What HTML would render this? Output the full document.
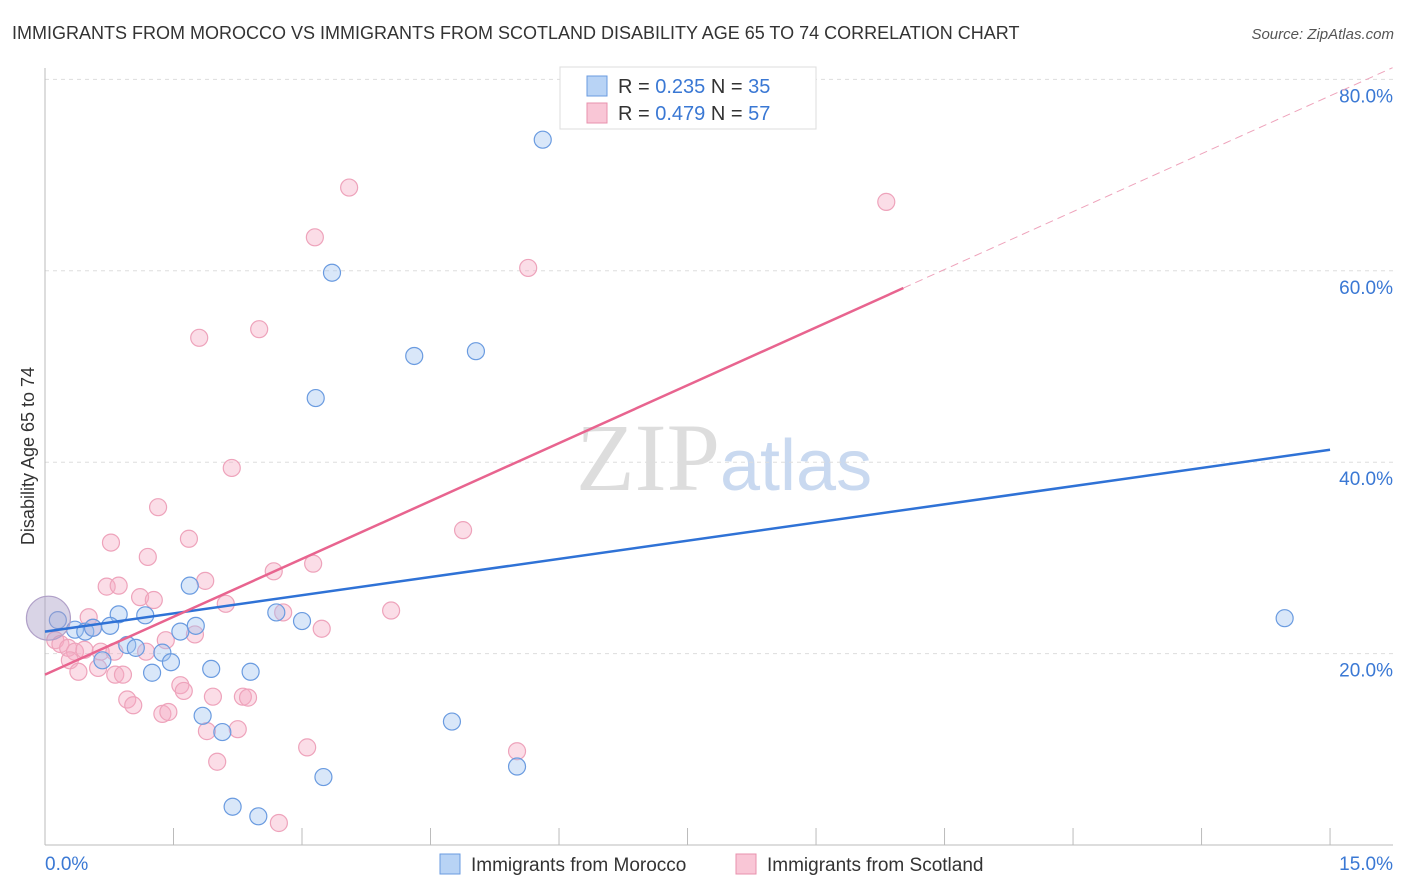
<!DOCTYPE html>
<html><head><meta charset="utf-8"><style>
body{margin:0;background:#fff;font-family:"Liberation Sans",sans-serif}
svg{display:block}
</style></head><body>
<svg width="1406" height="892" xmlns="http://www.w3.org/2000/svg" font-family="Liberation Sans, sans-serif">
<text x="12" y="39" font-size="18" fill="#333">IMMIGRANTS FROM MOROCCO VS IMMIGRANTS FROM SCOTLAND DISABILITY AGE 65 TO 74 CORRELATION CHART</text>
<text x="1394" y="39" font-size="15" fill="#555" font-style="italic" text-anchor="end">Source: ZipAtlas.com</text>
<text x="720" y="490" font-size="96" fill="#ddd" text-anchor="end" font-family="Liberation Serif, serif">ZIP</text>
<text x="720" y="490" font-size="72" fill="#c9d9f0">atlas</text>
<g id="grid"></g>
<g id="axes"></g>
<g id="marks"></g>
<g id="trends"></g>
<text transform="translate(34,456) rotate(-90)" font-size="18" fill="#333" text-anchor="middle">Disability Age 65 to 74</text>
<g>
<rect x="560" y="67" width="256" height="62" fill="#fff" stroke="#ddd"/>
<rect x="587" y="76" width="20" height="20" fill="#b8d3f5" stroke="#6a9be0"/>
<rect x="587" y="103" width="20" height="20" fill="#f9c6d6" stroke="#e891ad"/>
<text x="618" y="93" font-size="20" fill="#333">R = <tspan fill="#3a78d4">0.235</tspan>   N = <tspan fill="#3a78d4">35</tspan></text>
<text x="618" y="120" font-size="20" fill="#333">R = <tspan fill="#3a78d4">0.479</tspan>   N = <tspan fill="#3a78d4">57</tspan></text>
</g>
<g>
<rect x="440" y="854" width="20" height="20" fill="#b8d3f5" stroke="#6a9be0"/>
<text x="471" y="871" font-size="19" fill="#333">Immigrants from Morocco</text>
<rect x="736" y="854" width="20" height="20" fill="#f9c6d6" stroke="#e891ad"/>
<text x="767" y="871" font-size="19" fill="#333">Immigrants from Scotland</text>
</g>
</svg>
<script>
const xTicks=[0,1.5,3,4.5,6,7.5,9,10.5,12,13.5,15];
const yTicks=[20,40,60,80];
const yTickLabels=["20.0%","40.0%","60.0%","80.0%"];
const moroccoX=[5.81,3.35,4.31,5.03,3.16,1.69,0.86,1.17,2.70,3.0,0.15,0.35,0.47,0.76,0.56,1.58,1.76,0.96,1.06,1.37,1.47,0.67,1.25,1.94,2.40,1.84,2.07,4.75,3.25,5.51,2.19,2.49,14.47,0.04];
const moroccoY=[73.7,59.8,51.1,51.6,46.7,27.1,24.1,24.0,24.3,23.4,23.5,22.5,22.3,22.9,22.7,22.3,22.9,20.9,20.6,20.1,19.1,19.3,18.0,18.4,18.1,13.5,11.8,12.9,7.1,8.2,4.0,3.0,23.7,23.7];
const scotlandX=[3.55,9.82,3.15,5.64,1.80,2.50,2.18,1.32,4.88,0.77,1.68,1.20,3.13,2.67,1.87,0.72,0.86,1.11,1.27,2.11,2.78,4.04,0.51,0.56,3.23,1.75,1.41,0.12,0.18,0.27,0.35,0.46,0.65,0.81,1.18,0.29,0.39,0.62,0.82,0.91,1.58,1.62,1.96,0.96,1.03,1.37,1.44,2.31,2.37,1.89,2.25,2.01,3.06,5.51,2.73];
const scotlandY=[68.7,67.2,63.5,60.3,53.0,53.9,39.4,35.3,32.9,31.6,32.0,30.1,29.4,28.6,27.6,27.0,27.1,25.9,25.6,25.2,24.3,24.5,23.8,22.7,22.6,22.0,21.4,21.4,21.0,20.6,20.2,20.4,20.2,20.2,20.2,19.3,18.1,18.5,17.8,17.8,16.7,16.1,15.5,15.2,14.6,13.7,13.9,15.5,15.4,11.9,12.1,8.7,10.2,9.8,2.3];
const moroccoTrend=[22.3,41.3];
const scotlandTrend=[17.8,58.2];
const scotlandTrendEnd=10.02;

const NS="http://www.w3.org/2000/svg";
const X=v=>45+v*85.67, Y=v=>845-v*9.57;
function mk(tag,attrs,parent){const e=document.createElementNS(NS,tag);for(const k in attrs)e.setAttribute(k,attrs[k]);parent.appendChild(e);return e;}
const grid=document.getElementById('grid'),axes=document.getElementById('axes'),marks=document.getElementById('marks'),trends=document.getElementById('trends');
yTicks.forEach((t,i)=>{
 const l=mk('line',{x1:45,x2:1393,y1:Y(t),y2:Y(t),stroke:'#ddd','stroke-dasharray':'4,4'},grid);
 
 
 const tx=mk('text',{x:1393,y:Y(t)+23,'font-size':19,fill:'#3a78d4','text-anchor':'end'},axes);
 tx.textContent=yTickLabels[i];
 
 
});
const la=mk('line',{x1:45,x2:45,y1:68,y2:845,stroke:'#bbb'},axes);


const lb=mk('line',{x1:45,x2:1393,y1:845,y2:845,stroke:'#bbb'},axes);


xTicks.forEach(t=>{
 const l=mk('line',{x1:X(t),x2:X(t),y1:828,y2:845,stroke:'#bbb'},axes);
 
 
});
const x0=mk('text',{x:45,y:870,'font-size':19,fill:'#3a78d4'},axes);x0.textContent='0.0%';


const x1=mk('text',{x:1393,y:870,'font-size':19,fill:'#3a78d4','text-anchor':'end'},axes);x1.textContent='15.0%';


scotlandX.forEach((v,i)=>{
 const c=mk('circle',{cx:X(v),cy:Y(scotlandY[i]),r:8.5,fill:'rgba(246,170,195,0.4)',stroke:'#eea3bb','stroke-width':1.2},marks);
 
 
});
moroccoX.forEach((v,i)=>{
 const big=i===moroccoX.length-1;
 const c=mk('circle',{cx:X(v),cy:Y(moroccoY[i]),r:big?22:8.5,fill:big?'rgba(170,160,200,0.45)':'rgba(160,195,240,0.4)',stroke:big?'#b0a0c8':'#6a9be0','stroke-width':1.2},marks);
 
 
});
const tb=mk('line',{x1:X(0),y1:Y(moroccoTrend[0]),x2:X(15),y2:Y(moroccoTrend[1]),stroke:'#2f72d6','stroke-width':2.5},trends);


const sl=(scotlandTrend[1]-scotlandTrend[0])/scotlandTrendEnd;
const tp=mk('line',{x1:X(0),y1:Y(scotlandTrend[0]),x2:X(scotlandTrendEnd),y2:Y(scotlandTrend[1]),stroke:'#e8648f','stroke-width':2.5},trends);


const xe=15.73;
const td=mk('line',{x1:X(scotlandTrendEnd),y1:Y(scotlandTrend[1]),x2:X(xe),y2:Y(scotlandTrend[0]+sl*xe),stroke:'#eea3bb','stroke-width':1,'stroke-dasharray':'8,5'},trends);


</script>
</body></html>
